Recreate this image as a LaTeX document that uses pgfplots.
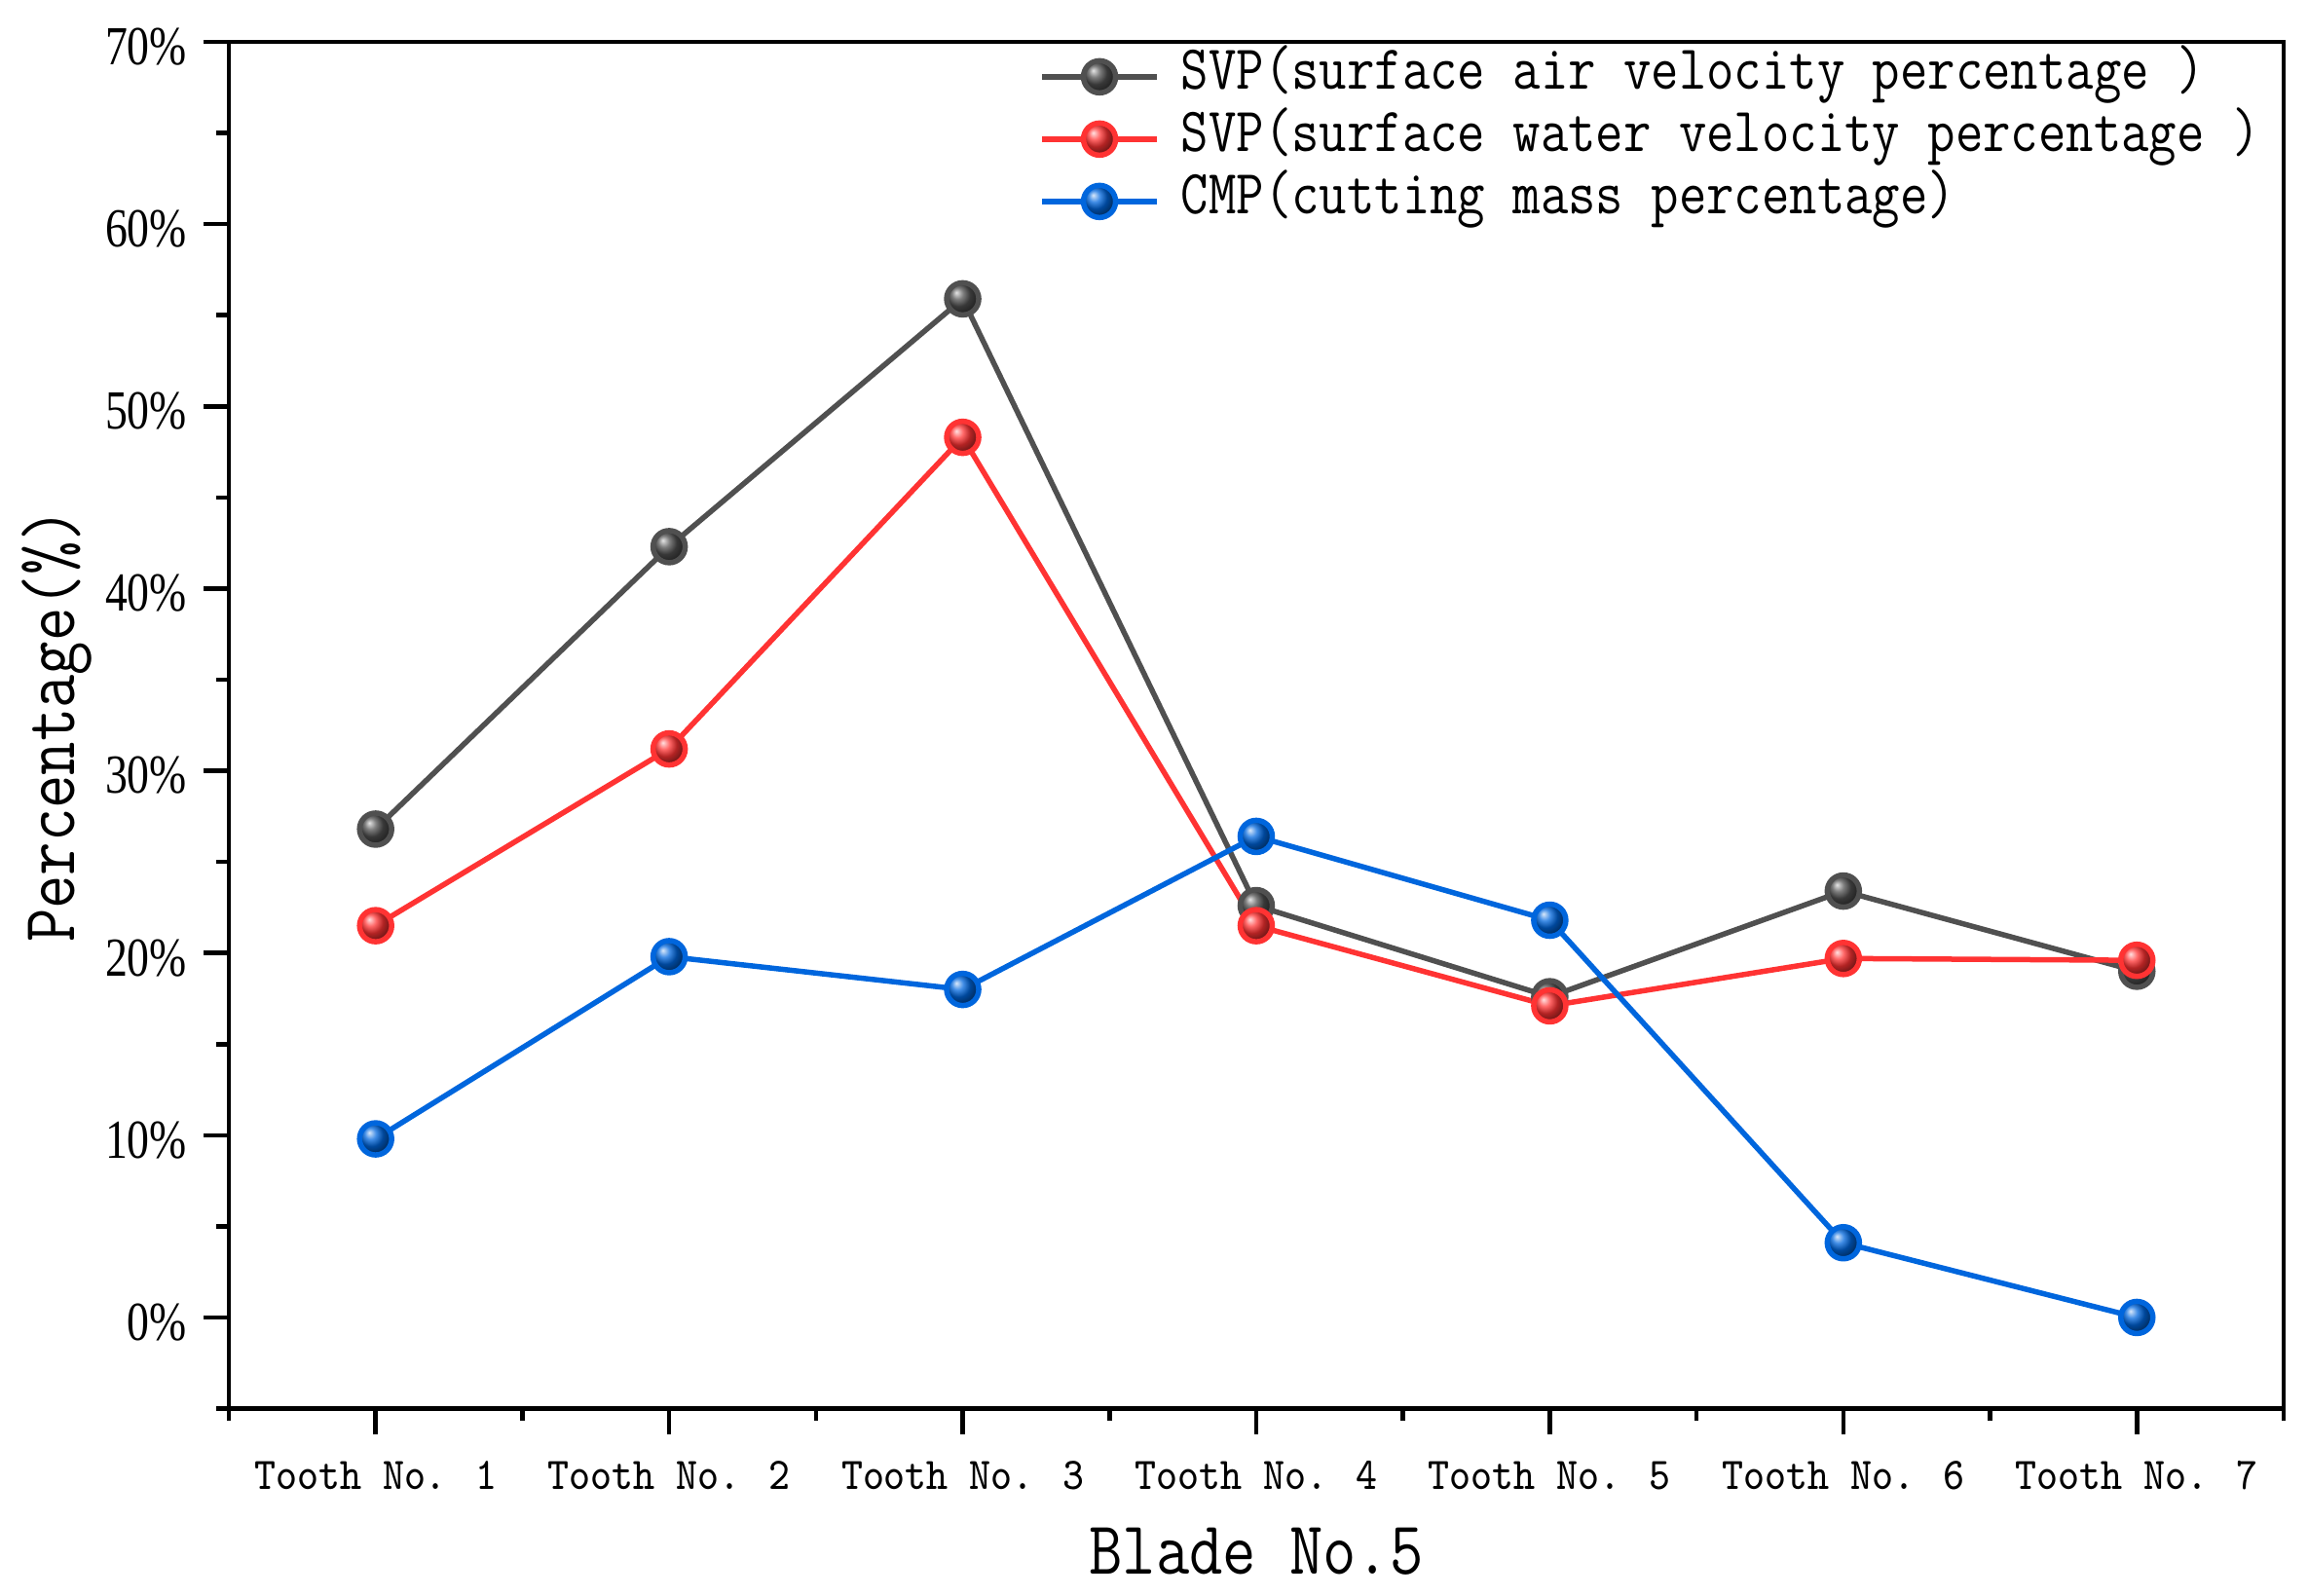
\documentclass[border=0pt]{standalone}
\usepackage{fontspec}
\setmainfont{Liberation Serif}
\newfontfamily\ytf[FakeStretch=0.81]{Liberation Serif}
\newfontfamily\xtf[FakeStretch=0.90]{Latin Modern Mono}
\newfontfamily\legf[FakeStretch=0.855]{Latin Modern Mono}
\newfontfamily\labf[FakeStretch=0.86]{Latin Modern Mono}
\usepackage{pgfplots}
\pgfplotsset{compat=1.18}
\definecolor{cgray}{RGB}{80,80,80}
\definecolor{cred}{RGB}{255,51,51}
\definecolor{cblue}{RGB}{0,102,221}
\begin{document}
\begin{tikzpicture}
\useasboundingbox (0,0) rectangle (474pt,327.6pt);
\begin{axis}[
  at={(47pt,38.3pt)}, anchor=south west,
  scale only axis, width=422pt, height=280.7pt,
  xmin=0.5, xmax=7.5, ymin=-5, ymax=70,
  axis line style={line width=0.9pt},
  every tick/.style={black, line width=0.9pt},
  tick align=outside,
  major tick length=5.2pt, minor tick length=2.5pt,
  xtick pos=bottom, ytick pos=left,
  xtick={1,2,3,4,5,6,7},
  xticklabels={Tooth No. 1,Tooth No. 2,Tooth No. 3,Tooth No. 4,Tooth No. 5,Tooth No. 6,Tooth No. 7},
  minor xtick={0.5,1.5,2.5,3.5,4.5,5.5,6.5,7.5},
  ytick={0,10,20,30,40,50,60,70},
  yticklabels={0\%,10\%,20\%,30\%,40\%,50\%,60\%,70\%},
  minor ytick={-5,5,15,25,35,45,55,65},
  xticklabel style={font=\xtf\fontsize{9.3}{10}\selectfont, anchor=base, yshift=-11.4pt, inner sep=0pt},
  yticklabel style={font=\ytf\fontsize{11.3}{13}\selectfont, anchor=east, xshift=-3.2pt, yshift=-1pt, inner sep=0pt},
  xlabel={Blade No.5},
  ylabel={Percentage(\%)},
  xlabel style={font=\labf\fontsize{15.5}{17}\selectfont, at={([yshift=-33.9pt]axis description cs:0.5,0)}, anchor=base},
  ylabel style={font=\labf\fontsize{15.5}{17}\selectfont, at={([xshift=-31.6pt]axis description cs:0,0.5)}, anchor=base, rotate=0},
  legend style={at={(0.394,0.998)}, anchor=north west, draw=none, fill=none, inner sep=0pt,
    font=\legf\fontsize{12.9}{14}\selectfont,
    nodes={inner ysep=0.5pt, text height=8.5pt, text depth=3.3pt},
    /tikz/every odd column/.append style={column sep=2.4pt}},
  legend cell align=left,
  legend image code/.code={\draw[mark repeat=2,mark phase=2,#1] plot coordinates {(0pt,0pt) (11.8pt,0pt) (23.6pt,0pt)};},
  every axis plot/.append style={line width=1.1pt, mark=ball, mark size=3.3pt},
]
\addplot[cgray, mark options={ball color=cgray}] coordinates {
(1,26.8) (2,42.3) (3,55.9) (4,22.6) (5,17.6) (6,23.4) (7,19.0)};
\addlegendentry{SVP(surface air velocity percentage )}
\addplot[cred, mark options={ball color=cred}] coordinates {
(1,21.5) (2,31.2) (3,48.3) (4,21.5) (5,17.1) (6,19.7) (7,19.6)};
\addlegendentry{SVP(surface water velocity percentage )}
\addplot[cblue, mark options={ball color=cblue}] coordinates {
(1,9.8) (2,19.8) (3,18.0) (4,26.4) (5,21.8) (6,4.1) (7,0.0)};
\addlegendentry{CMP(cutting mass percentage)}
\end{axis}
\end{tikzpicture}
\end{document}
